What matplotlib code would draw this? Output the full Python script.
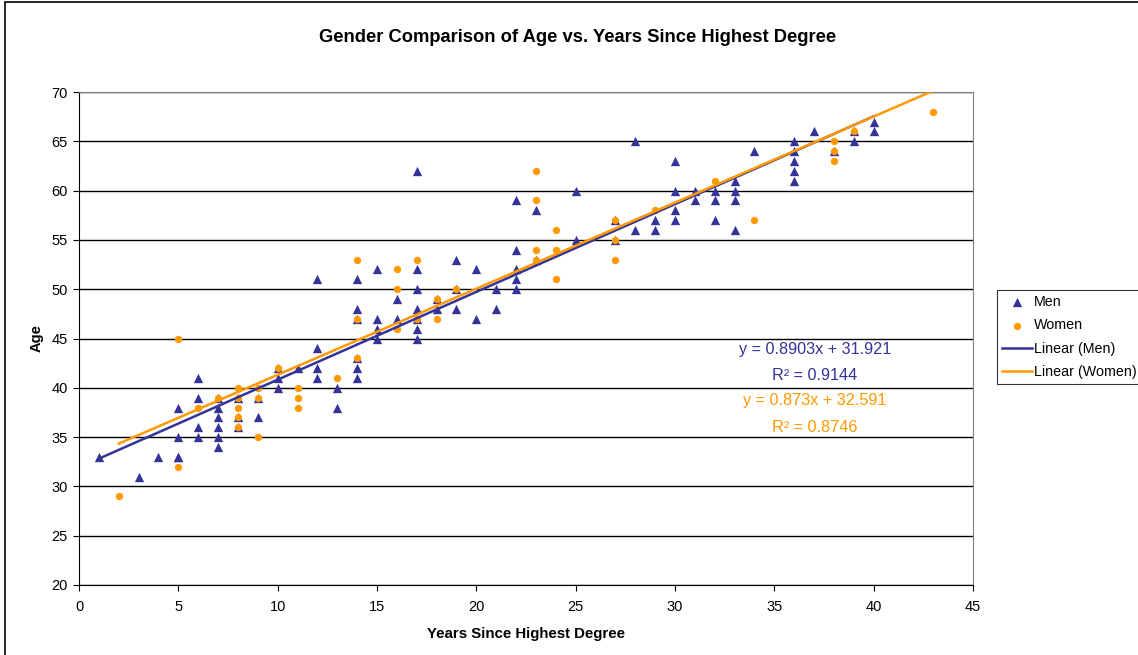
import matplotlib
matplotlib.use("Agg")
import matplotlib.pyplot as plt
from matplotlib.patches import Rectangle
import numpy as np

plt.rcParams['font.family'] = ['Liberation Sans', 'DejaVu Sans']

men_x = [1, 3, 4, 5, 5, 5, 5, 6, 6, 6, 6, 7, 7, 7, 7, 7, 7, 8, 8, 8, 9, 9,
         10, 10, 10, 11, 12, 12, 12, 12, 13, 13, 14, 14, 14, 14, 14, 14,
         15, 15, 15, 15, 16, 16, 17, 17, 17, 17, 17, 17, 17, 18, 18,
         19, 19, 19, 20, 20, 21, 21, 22, 22, 22, 22, 22, 23, 23, 25, 25,
         27, 27, 28, 28, 29, 29, 30, 30, 30, 30, 31, 31, 32, 32, 32,
         33, 33, 33, 33, 34, 36, 36, 36, 36, 36, 37, 38, 39, 39, 40, 40]
men_age = [33, 31, 33, 38, 35, 33, 33, 41, 39, 36, 35, 39, 38, 37, 36, 35, 34, 39, 37, 36, 39, 37,
           42, 41, 40, 42, 51, 44, 42, 41, 40, 38, 51, 48, 47, 43, 42, 41,
           52, 47, 46, 45, 49, 47, 62, 52, 50, 48, 47, 46, 45, 49, 48,
           53, 50, 48, 52, 47, 50, 48, 59, 54, 52, 51, 50, 58, 53, 60, 55,
           57, 55, 65, 56, 57, 56, 63, 60, 58, 57, 60, 59, 60, 59, 57,
           61, 60, 59, 56, 64, 65, 64, 63, 62, 61, 66, 64, 66, 65, 67, 66]

women_x = [2, 5, 5, 6, 7, 8, 8, 8, 8, 8, 9, 9, 9, 10, 11, 11, 11, 13,
           14, 14, 14, 16, 16, 16, 17, 17, 18, 18, 19, 23, 23, 23, 23,
           24, 24, 24, 27, 27, 27, 29, 32, 34, 38, 38, 38, 39, 43]
women_age = [29, 45, 32, 38, 39, 40, 39, 38, 37, 36, 40, 39, 35, 42, 40, 39, 38, 41,
             53, 47, 43, 52, 50, 46, 53, 47, 49, 47, 50, 62, 59, 54, 53,
             56, 54, 51, 57, 55, 53, 58, 61, 57, 65, 64, 63, 66, 68]

men_slope, men_intercept, men_r2 = 0.8903, 31.921, 0.9144
women_slope, women_intercept, women_r2 = 0.873, 32.591, 0.8746

title = "Gender Comparison of Age vs. Years Since Highest Degree"
xlabel = "Years Since Highest Degree"
ylabel = "Age"
x_ticks = list(range(0, 50, 5))
y_ticks = list(range(20, 75, 5))

men_color = "#333399"
women_color = "#FF9900"

W, H = 1138, 655
fig = plt.figure(figsize=(W / 100, H / 100), dpi=100)
ax = fig.add_axes([79 / W, 1 - 585 / H, (973 - 79) / W, (585 - 92) / H])

ax.set_xlim(0, 45)
ax.set_ylim(20, 70)
ax.set_xticks(x_ticks)
ax.set_yticks(y_ticks)
ax.yaxis.grid(True, color="black", linewidth=1.0)
ax.set_axisbelow(True)

ax.scatter(men_x, men_age, marker="^", s=45, color=men_color, zorder=3,
           linewidths=0, label="Men")
ax.scatter(women_x, women_age, marker="o", s=28, color=women_color, zorder=3,
           linewidths=0, label="Women")

mx = np.array([min(men_x), max(men_x)])
wx = np.array([min(women_x), max(women_x)])
ax.plot(mx, men_slope * mx + men_intercept, color=men_color, lw=1.8, zorder=4,
        label="Linear (Men)")
ax.plot(wx, women_slope * wx + women_intercept, color=women_color, lw=1.8, zorder=4,
        label="Linear (Women)")

for s in ["top", "right"]:
    ax.spines[s].set_color("#808080")
for s in ["left", "bottom"]:
    ax.spines[s].set_color("black")
ax.tick_params(direction="out", length=4, labelsize=10.5, colors="black")
ax.tick_params(axis="x", pad=7)
ax.tick_params(axis="y", pad=4)

ax.set_xlabel(xlabel, fontsize=10.8, fontweight="bold", labelpad=9)
ax.set_ylabel(ylabel, fontsize=10.5, fontweight="bold", labelpad=6)
fig.text(578 / W, 1 - 38 / H, title, ha="center", va="center",
         fontsize=13.2, fontweight="bold")

fs = 11.7
fig.text(815 / W, 1 - 349 / H, f"y = {men_slope}x + {men_intercept}",
         ha="center", va="center", color=men_color, fontsize=fs)
fig.text(815 / W, 1 - 376 / H, f"R\u00b2 = {men_r2}", ha="center", va="center",
         color=men_color, fontsize=fs)
fig.text(815 / W, 1 - 401 / H, f"y = {women_slope}x + {women_intercept}",
         ha="center", va="center", color=women_color, fontsize=fs)
fig.text(815 / W, 1 - 427 / H, f"R\u00b2 = {women_r2}", ha="center", va="center",
         color=women_color, fontsize=fs)

leg = fig.legend(loc="upper left", bbox_to_anchor=(997 / W, 1 - 290 / H),
                 fontsize=10.3, frameon=True, fancybox=False, edgecolor="black",
                 borderpad=0.35, labelspacing=0.65, handlelength=2.1,
                 handletextpad=0.15, borderaxespad=0)
leg.get_frame().set_linewidth(0.8)

fig.patches.append(Rectangle((5 / W, -0.01), 1.2, 1 - 1.5 / H + 0.01,
                             transform=fig.transFigure, fill=False,
                             edgecolor="black", linewidth=1.2))

fig.savefig("out.png", dpi=100)
